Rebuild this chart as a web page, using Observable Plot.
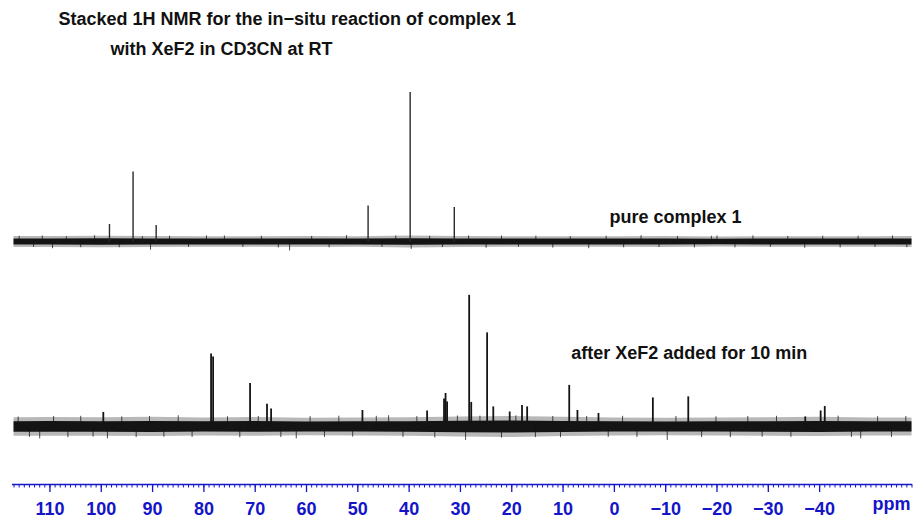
<!DOCTYPE html>
<html><head><meta charset="utf-8">
<script src="https://cdn.jsdelivr.net/npm/d3@7"></script>
<script src="https://cdn.jsdelivr.net/npm/@observablehq/plot@0.6"></script>
<style>
html,body{margin:0;padding:0;background:#fff;}
#chart{width:915px;height:518px;overflow:hidden;}
</style></head><body><div id="chart"></div>
<script>
// ---- text ----
const titleLines = ["Stacked 1H NMR for the in\u2212situ reaction of complex 1", "with XeF2 in CD3CN at RT"];
const traceNames = ["pure complex 1", "after XeF2 added for 10 min"];
const axisUnit = "ppm";

// ---- axis ----
const majorTicks = [110, 100, 90, 80, 70, 60, 50, 40, 30, 20, 10, 0, -10, -20, -30, -40];
const majorLabels = ["110", "100", "90", "80", "70", "60", "50", "40", "30", "20", "10", "0", "\u221210", "\u221220", "\u221230", "\u221240"];
const minorTicks = d3.range(-58, 118, 1);

// ---- trace 1: pure complex 1 (peak ppm / relative intensity) ----
const peak1Ppm = [98.4, 93.8, 89.3, 48.0, 39.8, 31.2];
const peak1Int = [11.7, 46.8, 11.0, 24.1, 100, 23.1];

// ---- trace 2: after XeF2 added for 10 min ----
const peak2Ppm = [99.6, 78.6, 78.2, 71.0, 67.7, 66.9, 49.1, 36.5, 33.2, 32.9, 32.6, 28.3, 27.9, 24.8, 23.6, 20.4, 18.0, 17.0, 8.8, 7.2, 3.1, -7.5, -14.4, -37.2, -40.2, -41.0];
const peak2Int = [9.7, 48.8, 46.8, 29.1, 15.1, 12.0, 11.0, 10.7, 18.7, 22.4, 16.7, 88.0, 16.4, 62.9, 13.4, 10.0, 14.4, 13.4, 27.8, 11.0, 9.0, 19.4, 20.1, 6.7, 10.7, 13.7];

// ---- baseline noise envelope (half-width, same units) ----
const noisePpm = [117, 110, 100, 90, 80, 70, 60, 50, 40, 30, 20, 10, 0, -10, -20, -30, -40, -50, -58];
const noise1 = [2.4, 2.4, 2.5, 2.4, 2.3, 2.3, 2.4, 2.3, 2.6, 2.4, 2.3, 2.3, 2.3, 2.4, 2.2, 2.3, 2.3, 2.3, 2.4];
const noise2 = [4.4, 4.5, 4.4, 4.6, 4.3, 4.5, 4.2, 4.3, 4.4, 4.8, 5.0, 4.6, 4.3, 4.2, 4.3, 4.4, 4.6, 4.3, 4.3];

// ---- small noise spikes (signed) ----
const spike1Ppm = [116.0, 113.2, 111.5, 109.5, 106.8, 104.0, 101.3, 96.5, 92.0, 90.4, 86.7, 83.0, 79.5, 76.0, 72.4, 68.8, 65.5, 63.3, 59.0, 55.6, 52.2, 45.3, 42.6, 39.6, 36.0, 33.5, 28.4, 25.0, 22.0, 18.7, 15.3, 12.0, 8.6, 5.0, 1.6, -1.8, -5.2, -8.7, -12.3, -15.6, -18.9, -20.0, -23.5, -27.0, -30.4, -33.8, -37.1, -40.6, -44.0, -47.5, -50.8, -54.2, -57.0];
const spike1Int = [3.8, -3.6, 4.0, -4.5, 3.5, -3.8, 4.2, -3.9, 3.6, -5.5, 3.9, -3.6, 4.1, 4.0, -3.7, 3.8, -4.0, -6.0, 3.7, -3.9, 4.3, -3.6, 4.0, -5.0, 3.8, -3.7, 4.1, -4.2, 4.0, -3.6, 3.9, -4.1, 3.6, -4.5, 3.8, -3.9, 4.2, -3.7, 3.6, -4.0, 3.8, 4.0, -3.9, 4.1, -3.6, 3.7, -4.2, 3.9, -4.0, 3.8, -3.6, 4.0, -3.8];
const spike2Ppm = [116.2, 114.0, 112.0, 109.3, 106.5, 104.0, 101.6, 98.8, 96.0, 93.2, 90.6, 87.8, 85.0, 82.3, 75.4, 73.0, 69.4, 65.0, 62.0, 59.3, 56.5, 53.7, 51.0, 46.4, 44.0, 41.2, 38.5, 35.0, 30.6, 29.0, 26.2, 22.0, 19.2, 15.4, 12.0, 10.5, 5.4, 1.2, -1.6, -4.4, -10.3, -12.0, -17.0, -19.8, -22.6, -26.0, -28.8, -31.6, -34.4, -43.6, -46.2, -48.0, -51.3, -54.0, -56.8];
const spike2Int = [6.6, -7.0, -8.0, 6.9, -7.2, 7.1, -6.8, -8.0, 6.7, -7.1, 7.0, -6.9, 7.5, -7.0, 6.8, -7.3, 7.0, -7.1, -8.0, 6.9, -7.0, 7.2, -6.8, 7.1, 7.5, -7.0, 6.9, -7.4, 7.3, -9.0, 7.2, -7.5, 7.4, -7.1, 7.0, -7.2, 7.0, -6.9, 7.1, -7.0, -9.0, 7.0, -7.1, 6.8, -7.2, 7.0, -6.9, 7.1, -7.0, 7.2, -7.0, -8.0, 6.9, -7.1, 7.0];

// ---- layout (stack offsets in intensity units) ----
const OFFSET = [162.2, 38.5];
const BLUE = "#1414c8";
const INK = "#141414";

const toRows = (ppm, vals) => ppm.map((p, i) => ({ppm: p, v: vals[i]}));
const peaks1 = toRows(peak1Ppm, peak1Int);
const peaks2 = toRows(peak2Ppm, peak2Int);
const n1 = toRows(noisePpm, noise1);
const n2 = toRows(noisePpm, noise2);
const sp1 = toRows(spike1Ppm, spike1Int);
const sp2 = toRows(spike2Ppm, spike2Int);

const band = (rows, off, k, opts) => Plot.areaY(rows, {x: "ppm", y1: d => off - d.v * k, y2: d => off + d.v * k, ...opts});

const chart = Plot.plot({
  width: 915, height: 518,
  marginLeft: 12, marginRight: 3, marginTop: 0, marginBottom: 34,
  x: {domain: [117.3, -58.1], axis: null, label: null},
  y: {domain: [0, 323.7], axis: null, label: null},
  style: {fontFamily: "'Liberation Sans', Arial, sans-serif", fontSize: "18px", fontWeight: "bold", background: "#fff", overflow: "visible"},
  marks: [
    // noise bands
    band(n1, OFFSET[0], 1.55, {fill: INK, fillOpacity: 0.3}),
    band(n1, OFFSET[0], 0.85, {fill: INK}),
    band(n2, OFFSET[1], 1.4, {fill: INK, fillOpacity: 0.3}),
    band(n2, OFFSET[1], 0.8, {fill: INK}),
    // spikes
    Plot.ruleX(sp1, {x: "ppm", y1: OFFSET[0], y2: d => OFFSET[0] + d.v, stroke: INK, strokeWidth: 0.9, strokeOpacity: 0.85}),
    Plot.ruleX(sp2, {x: "ppm", y1: OFFSET[1], y2: d => OFFSET[1] + d.v, stroke: INK, strokeWidth: 0.9, strokeOpacity: 0.85}),
    // peaks
    Plot.ruleX(peaks1, {x: "ppm", y1: OFFSET[0], y2: d => OFFSET[0] + d.v, stroke: "#2a2a2a", strokeWidth: 1.4}),
    Plot.ruleX(peaks2, {x: "ppm", y1: OFFSET[1], y2: d => OFFSET[1] + d.v, stroke: INK, strokeWidth: 1.8}),
    // trace labels
    Plot.text([traceNames[0]], {x: -11.9, y: OFFSET[0] + 16.6, text: d => d, textAnchor: "middle", fill: "#111"}),
    Plot.text([traceNames[1]], {x: -14.6, y: OFFSET[1] + 49.5, text: d => d, textAnchor: "middle", fill: "#111"}),
    // axis
    Plot.ruleY([0], {stroke: BLUE, strokeWidth: 1.3}),
    Plot.axisX(minorTicks, {anchor: "bottom", tickSize: 3.5, tickFormat: () => "", label: null, color: BLUE, strokeWidth: 1}),
    Plot.axisX(majorTicks, {anchor: "bottom", tickSize: 8, tickPadding: 10, label: null, color: BLUE, strokeWidth: 1.3,
      tickFormat: d => majorLabels[majorTicks.indexOf(d)], fontSize: 18, fontWeight: "bold"}),
    Plot.text([axisUnit], {frameAnchor: "bottom-right", dx: -2, dy: 25, text: d => d, textAnchor: "end", fill: BLUE, fontSize: 18, fontWeight: "bold"}),
    // title
    Plot.text([titleLines[0]], {frameAnchor: "top-left", dx: 46, dy: 12, text: d => d, textAnchor: "start", lineAnchor: "top", fill: "#111", fontSize: 18, fontWeight: "bold"}),
    Plot.text([titleLines[1]], {frameAnchor: "top-left", dx: 98, dy: 42, text: d => d, textAnchor: "start", lineAnchor: "top", fill: "#111", fontSize: 18, fontWeight: "bold"})
  ]
});
document.getElementById("chart").append(chart);
</script>
</body></html>
